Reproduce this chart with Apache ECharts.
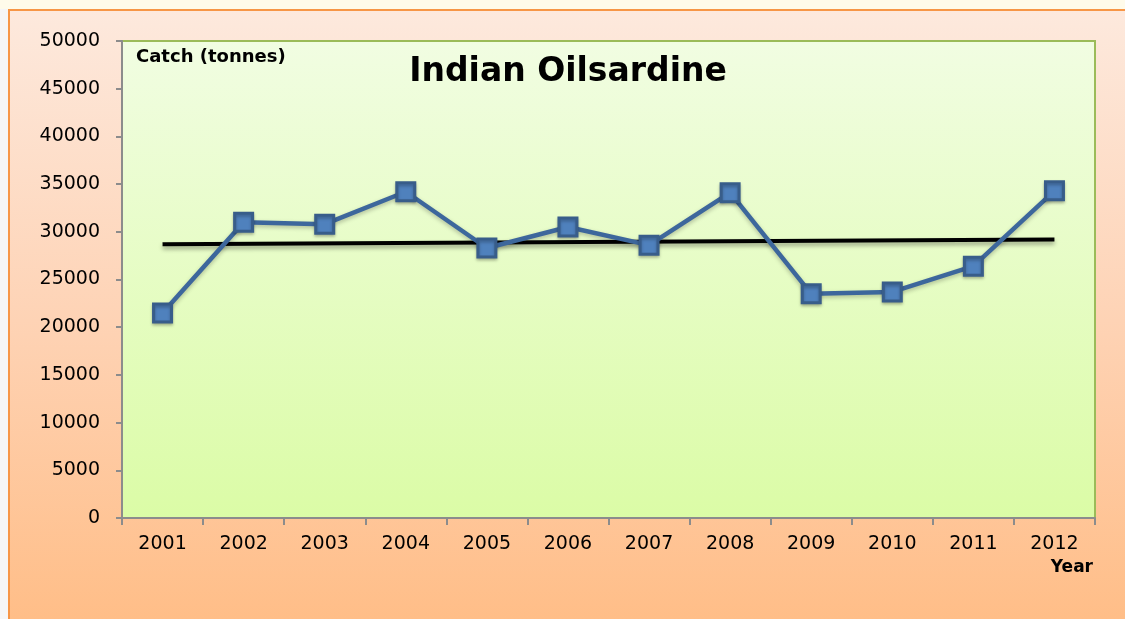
<!DOCTYPE html>
<html>
<head>
<meta charset="utf-8">
<script src="https://cdn.jsdelivr.net/npm/echarts@6/dist/echarts.min.js"></script>
<style>
html,body{margin:0;padding:0;width:1125px;height:619px;overflow:hidden;background:#fffbea;}
#frame{position:absolute;left:8px;top:9px;width:1125px;height:620px;border-left:2px solid #f79646;border-top:2px solid #f79646;background:linear-gradient(to bottom,#fde9dd 0%,#fed3b5 50%,#ffbd86 100%);}
#leftstrip{position:absolute;left:0;top:9px;width:8px;height:610px;background:#f6f6f6;}
#main{position:absolute;left:0;top:0;width:1125px;height:619px;}
</style>
</head>
<body>
<div id="leftstrip"></div>
<div id="frame"></div>
<div id="main"></div>
<script>
var years = ['2001','2002','2003','2004','2005','2006','2007','2008','2009','2010','2011','2012'];
var catchTonnes = [21500, 31000, 30800, 34200, 28300, 30500, 28600, 34100, 23500, 23700, 26400, 34300];
var trendLine = [28700, null, null, null, null, null, null, null, null, null, null, 29200];
var yTicks = [0, 5000, 10000, 15000, 20000, 25000, 30000, 35000, 40000, 45000, 50000];

var chart = echarts.init(document.getElementById('main'));
var font = '"DejaVu Sans", sans-serif';
chart.setOption({
  backgroundColor: 'transparent',
  animation: false,
  graphic: [
    {type: 'text', x: 568, y: 72, style: {text: 'Indian Oilsardine', fontFamily: font, fontSize: 33, fontWeight: 'bold', fill: '#000', align: 'center', verticalAlign: 'middle'}, z: 10},
    {type: 'text', x: 136, y: 57, style: {text: 'Catch (tonnes)', fontFamily: font, fontSize: 18, fontWeight: 'bold', fill: '#000', align: 'left', verticalAlign: 'middle'}, z: 10},
    {type: 'text', x: 1093, y: 568, style: {text: 'Year', fontFamily: font, fontSize: 17, fontWeight: 'bold', fill: '#000', align: 'right', verticalAlign: 'middle'}, z: 10}
  ],
  grid: {
    left: 122, right: 30, top: 41, bottom: 101,
    show: true,
    borderColor: '#9bbb59', borderWidth: 2,
    backgroundColor: new echarts.graphic.LinearGradient(0, 0, 0, 1, [
      {offset: 0, color: '#f1fde2'},
      {offset: 1, color: '#dbfca6'}
    ])
  },
  xAxis: {
    type: 'category',
    data: years,
    boundaryGap: true,
    axisLine: {show: true, lineStyle: {color: '#8c8c8c', width: 2}},
    axisTick: {show: true, alignWithLabel: false, length: 7, lineStyle: {color: '#8c8c8c', width: 2}},
    axisLabel: {fontFamily: font, fontSize: 19, color: '#000', margin: 17},
    splitLine: {show: false}
  },
  yAxis: {
    type: 'value',
    min: yTicks[0], max: yTicks[yTicks.length - 1], interval: yTicks[1] - yTicks[0],
    axisLine: {show: true, lineStyle: {color: '#8c8c8c', width: 2}},
    axisTick: {show: true, length: 6, lineStyle: {color: '#8c8c8c', width: 2}},
    axisLabel: {fontFamily: font, fontSize: 19, color: '#000', margin: 22, formatter: function (v) { return String(v); }},
    splitLine: {show: false}
  },
  series: [
    {
      type: 'line',
      data: trendLine,
      connectNulls: true,
      symbol: 'none',
      z: 3,
      lineStyle: {color: '#000', width: 4, shadowColor: 'rgba(0,0,0,0.35)', shadowBlur: 4, shadowOffsetY: 3}
    },
    {
      type: 'line',
      data: catchTonnes,
      symbol: 'rect',
      symbolSize: 18,
      z: 4,
      lineStyle: {color: '#3d679c', width: 4.5, shadowColor: 'rgba(0,0,0,0.25)', shadowBlur: 4, shadowOffsetY: 2},
      itemStyle: {color: '#4f81bd', borderColor: '#385d8a', borderWidth: 3, shadowColor: 'rgba(0,0,0,0.25)', shadowBlur: 3, shadowOffsetY: 2}
    }
  ]
});
</script>
</body>
</html>
